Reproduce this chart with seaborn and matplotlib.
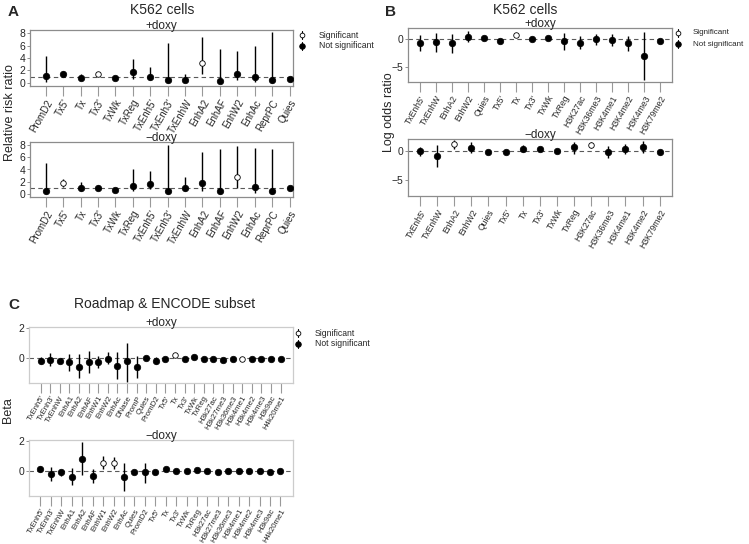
import numpy as np
import pandas as pd
import seaborn as sns
import matplotlib.pyplot as plt
from matplotlib.lines import Line2D

sns.set_style("white")
plt.rcParams['font.family'] = ['Liberation Sans', 'DejaVu Sans']

# ---- panel A: relative risk ratio ----
a_labels = ["PromD2", "Tx5'", "Tx", "Tx3'", "TxWk", "TxReg", "TxEnh5'", "TxEnh3'",
            "TxEnhW", "EnhA2", "EnhAF", "EnhW2", "EnhAc", "ReprPC", "Quies"]
a_plus_est = [1.1, 1.4, 0.8, 1.4, 0.8, 1.7, 1.0, 0.4, 0.5, 3.2, 0.3, 1.4, 0.9, 0.5, 0.7]
a_plus_lo = [0.2, 1.1, 0.4, 1.1, 0.6, 0.7, 0.4, 0.0, 0.2, 1.4, 0.0, 0.4, 0.1, 0.0, 0.6]
a_plus_hi = [4.4, 1.9, 1.5, 1.7, 1.0, 3.9, 2.5, 6.4, 1.4, 7.4, 5.5, 5.1, 6.0, 8.2, 0.9]
a_plus_sig = [0, 0, 0, 1, 0, 0, 0, 0, 0, 1, 0, 0, 0, 0, 0]
a_minus_est = [0.4, 1.8, 0.95, 1.0, 0.6, 1.3, 1.7, 0.5, 1.0, 1.8, 0.4, 2.8, 1.1, 0.4, 0.9]
a_minus_lo = [0.0, 1.2, 0.5, 0.8, 0.5, 0.4, 0.8, 0.0, 0.4, 0.5, 0.0, 1.0, 0.2, 0.0, 0.8]
a_minus_hi = [5.0, 2.5, 2.0, 1.4, 0.8, 4.0, 3.7, 8.0, 2.8, 6.8, 7.4, 7.8, 7.5, 7.4, 1.0]
a_minus_sig = [0, 1, 0, 0, 0, 0, 0, 0, 0, 0, 0, 1, 0, 0, 0]

# ---- panel B: log odds ratio ----
b_plus_labels = ["TxEnh5'", "TxEnhW", "EnhA2", "EnhW2", "Quies", "Tx5'", "Tx", "Tx3'",
                 "TxWk", "TxReg", "H3K27ac", "H3K36me3", "H3K4me1", "H3K4me2",
                 "H3K4me3", "H3K79me2"]
b_plus_est = [-0.7, -0.6, -0.8, 0.4, 0.1, -0.3, 0.7, 0.0, 0.1, -0.4, -0.7, 0.0, -0.1, -0.7, -3.0, -0.3]
b_plus_lo = [-2.1, -2.4, -2.6, -0.6, -0.1, -0.5, 0.6, -0.2, -0.1, -2.0, -1.8, -1.0, -1.2, -2.1, -7.4, -0.6]
b_plus_hi = [0.8, 1.1, 0.9, 1.4, 0.3, -0.1, 0.8, 0.2, 0.3, 1.1, 0.6, 1.0, 1.0, 0.6, 1.3, 0.0]
b_plus_sig = [0, 0, 0, 0, 0, 0, 1, 0, 0, 0, 0, 0, 0, 0, 0, 0]
b_minus_labels = ["TxEnh5'", "TxEnhW", "EnhA2", "EnhW2", "Quies", "Tx5'", "Tx", "Tx3'",
                  "TxWk", "TxReg", "H3K27ac", "H3K36me3", "H3K4me1", "H3K4me2", "H3K79me2"]
b_minus_est = [0.0, -1.0, 1.1, 0.5, -0.25, -0.3, 0.25, 0.25, 0.0, 0.6, 0.9, -0.25, 0.3, 0.6, -0.3]
b_minus_lo = [-0.9, -2.8, 0.3, -0.4, -0.45, -0.5, -0.3, 0.05, -0.2, -0.5, 0.4, -1.2, -0.5, -0.4, -0.8]
b_minus_hi = [0.7, 0.9, 1.9, 1.4, -0.05, -0.1, 0.9, 0.45, 0.2, 1.5, 1.4, 0.8, 1.2, 1.6, 0.1]
b_minus_sig = [0, 0, 1, 0, 0, 0, 0, 0, 0, 0, 1, 0, 0, 0, 0]

# ---- panel C: beta ----
c_plus_labels = ["TxEnh5'", "TxEnh3'", "TxEnhW", "EnhA1", "EnhA2", "EnhAF", "EnhW1", "EnhW2",
                 "EnhAc", "DNase", "PromP", "Quies", "PromD2", "Tx5'", "Tx", "Tx3'", "TxWk",
                 "TxReg", "H3k27ac", "H3k27me3", "H3k36me3", "H3k4me1", "H3k4me2",
                 "H3k4me3", "H3k9ac", "H4k20me1"]
c_plus_est = [-0.2, -0.15, -0.25, -0.3, -0.6, -0.3, -0.3, -0.05, -0.55, -0.25, -0.6, 0.0, -0.2,
              -0.1, 0.2, -0.05, 0.03, -0.1, -0.1, -0.15, -0.07, -0.1, -0.1, -0.1, -0.1, -0.05]
c_plus_lo = [-0.45, -0.55, -0.35, -0.9, -1.4, -1.05, -0.7, -0.4, -1.45, -1.65, -1.35, -0.05, -0.45,
             -0.2, 0.15, -0.1, -0.02, -0.15, -0.15, -0.2, -0.12, -0.15, -0.15, -0.15, -0.15, -0.1]
c_plus_hi = [0.03, 0.3, -0.15, 0.25, 0.25, 0.45, 0.1, 0.4, 0.4, 1.0, 0.15, 0.05, 0.02,
             0.0, 0.25, 0.0, 0.08, -0.05, -0.05, -0.1, -0.02, -0.05, -0.05, -0.05, -0.05, 0.0]
c_plus_sig = [0, 0, 0, 0, 0, 0, 0, 0, 0, 0, 0, 0, 0, 0, 1, 0, 0, 0, 0, 0, 0, 1, 0, 0, 0, 0]
c_minus_labels = ["TxEnh5'", "TxEnh3'", "TxEnhW", "EnhA1", "EnhA2", "EnhAF", "EnhW1", "EnhW2",
                  "EnhAc", "Quies", "PromD2", "Tx5'", "Tx", "Tx3'", "TxWk", "TxReg",
                  "H3k27ac", "H3k27me3", "H3k36me3", "H3k4me1", "H3k4me2", "H3k4me3",
                  "H3k9ac", "H4k20me1"]
c_minus_est = [0.1, -0.2, -0.1, -0.4, 0.8, -0.35, 0.55, 0.5, -0.4, -0.05, -0.1, -0.07,
               0.1, 0.0, 0.0, 0.07, 0.0, -0.08, -0.02, 0.0, 0.0, 0.0, -0.08, 0.0]
c_minus_lo = [-0.05, -0.7, -0.35, -1.0, -0.3, -0.85, 0.1, 0.1, -1.4, -0.1, -0.8, -0.12,
              0.05, -0.05, -0.05, -0.05, -0.05, -0.13, -0.07, -0.05, -0.05, -0.05, -0.13, -0.05]
c_minus_hi = [0.3, 0.25, 0.05, 0.2, 1.95, 0.1, 1.0, 0.95, 0.55, 0.0, 0.55, -0.02,
              0.15, 0.05, 0.05, 0.2, 0.05, -0.03, 0.03, 0.05, 0.05, 0.05, -0.03, 0.05]
c_minus_sig = [0, 0, 0, 0, 0, 0, 1, 1, 0, 0, 0, 0, 0, 0, 0, 0, 0, 0, 0, 0, 0, 0, 0, 0]

W, H = 749, 544
fig = plt.figure(figsize=(W / 100, H / 100), dpi=100)


def box(left, top, right, bottom):
    return [left / W, 1 - bottom / H, (right - left) / W, (bottom - top) / H]


def panel(rect, labels, est, lo, hi, sig, ylim, yticks, ref, title, lsize, spine='0.55',
          pad_left=0.9, pad_right=0.2):
    ax = fig.add_axes(box(*rect))
    df = pd.DataFrame({"x": np.arange(len(labels)), "est": est, "lo": lo, "hi": hi,
                       "sig": np.array(sig).astype(bool)})
    ax.axhline(ref, color='0.35', ls='--', lw=0.8, dashes=(4, 3), zorder=1)
    ax.vlines(df["x"], df["lo"], df["hi"], color='black', lw=1.0, zorder=2)
    sns.scatterplot(data=df[~df["sig"]], x="x", y="est", ax=ax, color='black', s=22,
                    edgecolor='black', linewidth=0.5, zorder=3, legend=False)
    sns.scatterplot(data=df[df["sig"]], x="x", y="est", ax=ax, color='white', s=16,
                    edgecolor='black', linewidth=0.6, zorder=3, legend=False)
    ax.set_xlim(-pad_left, len(labels) - 1 + pad_right)
    ax.set_ylim(*ylim)
    ax.set_yticks(yticks)
    ax.set_xticks(df["x"])
    ax.set_xticklabels(labels, rotation=60, ha='right', rotation_mode='anchor', fontsize=lsize)
    ax.tick_params(axis='x', bottom=True, length=7, width=0.8, color='0.6', pad=1.5)
    ax.tick_params(axis='y', left=True, length=2, width=0.6, color='0.5', labelsize=7.5, pad=1.5)
    ax.set_xlabel("")
    ax.set_ylabel("")
    ax.set_title(title, fontsize=8.5, pad=0.5)
    for s in ax.spines.values():
        s.set_color(spine)
        s.set_linewidth(0.9)
    return ax


def add_legend(x, y, size=6.2, gap=17):
    # open / filled marker with a short vertical bar
    for i, (face, text) in enumerate([("white", "Significant"), ("black", "Not significant")]):
        yy = y + i * 11
        fig.add_artist(Line2D([x / W, x / W], [1 - (yy - 4) / H, 1 - (yy + 4) / H],
                              color='black', lw=0.8))
        fig.add_artist(Line2D([x / W], [1 - yy / H], marker='o', ms=4.0 if face == "black" else 3.4,
                              mfc=face, mec='black', mew=0.6, ls='none'))
        fig.text((x + gap) / W, 1 - yy / H, text, fontsize=size, va='center', ha='left')


# panel A
panel((30, 30, 293, 86), a_labels, a_plus_est, a_plus_lo, a_plus_hi, a_plus_sig,
      (-0.5, 8.5), [0, 2, 4, 6, 8], 1, "+doxy", 7)
panel((30, 142, 293, 197), a_labels, a_minus_est, a_minus_lo, a_minus_hi, a_minus_sig,
      (-0.5, 8.5), [0, 2, 4, 6, 8], 1, "\u2212doxy", 7)
fig.text(8 / W, 1 - 12 / H, "A", fontsize=11, fontweight='bold', va='center')
fig.text(162 / W, 1 - 10 / H, "K562 cells", fontsize=10, ha='center', va='center')
fig.text(10 / W, 1 - 113 / H, "Relative risk ratio", fontsize=9, rotation=90,
         ha='center', va='center')
add_legend(302, 35)

# panel B
panel((408, 28, 672, 82), b_plus_labels, b_plus_est, b_plus_lo, b_plus_hi, b_plus_sig,
      (-7.8, 2.0), [-5, 0], 0, "+doxy", 6.2, pad_left=0.72, pad_right=0.75)
panel((408, 139, 672, 196), b_minus_labels, b_minus_est, b_minus_lo, b_minus_hi, b_minus_sig,
      (-7.8, 2.0), [-5, 0], 0, "\u2212doxy", 6.2, pad_left=0.7, pad_right=0.72)
fig.text(385 / W, 1 - 12 / H, "B", fontsize=11, fontweight='bold', va='center')
fig.text(525 / W, 1 - 10 / H, "K562 cells", fontsize=10, ha='center', va='center')
fig.text(389 / W, 1 - 112 / H, "Log odds ratio", fontsize=9, rotation=90,
         ha='center', va='center')
add_legend(678, 33, size=5.8, gap=15)

# panel C
panel((29, 327, 293, 383), c_plus_labels, c_plus_est, c_plus_lo, c_plus_hi, c_plus_sig,
      (-1.72, 2.1), [0, 2], 0, "+doxy", 5.6, spine='0.8', pad_left=1.2, pad_right=1.3)
panel((29, 440, 293, 496), c_minus_labels, c_minus_est, c_minus_lo, c_minus_hi, c_minus_sig,
      (-1.72, 2.1), [0, 2], 0, "\u2212doxy", 5.6, spine='0.8', pad_left=1.1, pad_right=1.2)
fig.text(8 / W, 1 - 305 / H, "C", fontsize=11, fontweight='bold', va='center')
fig.text(165 / W, 1 - 304 / H, "Roadmap & ENCODE subset", fontsize=10, ha='center', va='center')
fig.text(8 / W, 1 - 410 / H, "Beta", fontsize=9, rotation=90, ha='center', va='center')
add_legend(298, 333)

fig.savefig("out.png", dpi=100)
